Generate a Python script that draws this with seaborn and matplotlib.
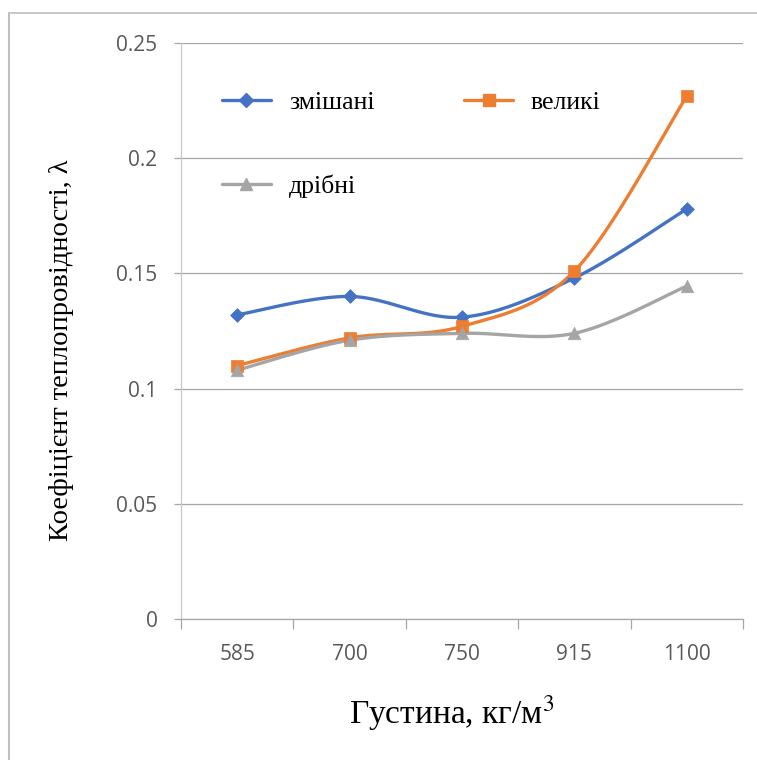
import numpy as np
import pandas as pd
import matplotlib
matplotlib.use("Agg")
import matplotlib.pyplot as plt
from matplotlib.lines import Line2D
from matplotlib.font_manager import FontProperties
import seaborn as sns

# Density categories (kg/m^3) and thermal conductivity per fraction type
density = ["585", "700", "750", "915", "1100"]
mixed = [0.132, 0.140, 0.131, 0.148, 0.178]   # змішані
large = [0.110, 0.122, 0.127, 0.151, 0.227]   # великі
fine = [0.108, 0.121, 0.124, 0.124, 0.1445]   # дрібні

series_names = ["змішані", "великі", "дрібні"]
series_values = [mixed, large, fine]
colors = ["#4472C4", "#ED7D31", "#A5A5A5"]
markers = ["D", "s", "^"]
marker_sizes = [7, 8, 9]


def smooth_curve(xs, ys, n=40):
    """Piecewise cubic Bezier through the points (Catmull-Rom style tangents)."""
    xs = np.asarray(xs, float)
    ys = np.asarray(ys, float)
    pts = np.column_stack([xs, ys])
    ext = np.vstack([pts[0], pts, pts[-1]])
    out = []
    t = np.linspace(0, 1, n)[:, None]
    for i in range(len(pts) - 1):
        p0, p1, p2, p3 = ext[i], ext[i + 1], ext[i + 2], ext[i + 3]
        b1 = p1 + (p2 - p0) / 6.0
        b2 = p2 - (p3 - p1) / 6.0
        seg = ((1 - t) ** 3) * p1 + 3 * ((1 - t) ** 2) * t * b1 + 3 * (1 - t) * t ** 2 * b2 + t ** 3 * p2
        out.append(seg if i == 0 else seg[1:])
    out = np.vstack(out)
    return out[:, 0], out[:, 1]


sns.set_theme(style="white")
plt.rcParams["font.family"] = ["Liberation Serif", "DejaVu Serif"]
plt.rcParams["mathtext.fontset"] = "stix"

fig = plt.figure(figsize=(7.57, 7.60), dpi=100)
ax = fig.add_axes([181 / 757, 1 - 619 / 760, (743 - 181) / 757, (619 - 43) / 760])

xpos = np.arange(len(density))
for name, vals, c, m, ms in zip(series_names, series_values, colors, markers, marker_sizes):
    cx, cy = smooth_curve(xpos, vals)
    curve = pd.DataFrame({"x": cx, "y": cy})
    sns.lineplot(data=curve, x="x", y="y", sort=False, estimator=None, ax=ax,
                 color=c, linewidth=2.4, zorder=3)
    pts = pd.DataFrame({"x": xpos, "y": vals})
    sns.scatterplot(data=pts, x="x", y="y", ax=ax, color=c, marker=m, s=ms ** 2,
                    edgecolor=c, linewidth=0.5, zorder=4)

ax.set_xlim(-0.5, len(density) - 0.5)
ax.set_ylim(0, 0.25)
ax.set_yticks([0, 0.05, 0.1, 0.15, 0.2, 0.25])
ax.set_yticklabels(["0", "0.05", "0.1", "0.15", "0.2", "0.25"])
ax.set_xticks(xpos)
ax.set_xticklabels(density)
ax.set_xticks(np.arange(-0.5, len(density)), minor=True)

for lab in ax.get_xticklabels() + ax.get_yticklabels():
    lab.set_fontfamily(["Open Sans", "DejaVu Sans"])
    lab.set_fontsize(15)
    lab.set_color("#595959")

ax.tick_params(axis="x", which="major", length=0, pad=18)
ax.tick_params(axis="x", which="minor", length=7, width=0.9, color="#A6A6A6", bottom=True)
ax.tick_params(axis="y", which="major", length=5, width=0.9, color="#A6A6A6", left=True, pad=12)

ax.grid(axis="y", color="#A6A6A6", linewidth=0.9)
ax.grid(axis="x", visible=False)
ax.set_axisbelow(True)
for side in ["top", "right"]:
    ax.spines[side].set_visible(False)
ax.spines["left"].set_color("#C8C8C8")
ax.spines["left"].set_linewidth(0.9)
ax.spines["bottom"].set_color("#A6A6A6")
ax.spines["bottom"].set_linewidth(0.9)

ax.set_xlabel("Густина, кг/м$^3$", fontsize=24, color="black")
ax.set_ylabel("Коефіцієнт теплопровідності, λ", fontsize=20.5, color="black")
# label centres placed in axes-fraction coordinates
ax.xaxis.set_label_coords((452 - 181) / 562, -(713 - 619) / 576)
ax.yaxis.set_label_coords(-(181 - 62) / 562, (619 - 350) / 576)
ax.xaxis.label.set_va("center")
ax.yaxis.label.set_va("center")

# Column-wise legend fill: first column holds змішані / дрібні, second holds великі
order = [0, 2, 1]
handles = [Line2D([], [], color=colors[i], marker=markers[i], markersize=marker_sizes[i],
                  linewidth=2.4, markeredgecolor=colors[i]) for i in order]
labels = [series_names[i] for i in order]
legend_font = FontProperties(family=["Liberation Serif", "DejaVu Serif"], size=18.5)
leg = ax.legend(handles, labels, ncol=2, loc="upper left",
                bbox_to_anchor=(0.073, 0.916), frameon=False, prop=legend_font,
                handlelength=1.9, handletextpad=0.7, columnspacing=3.5,
                labelspacing=2.35, borderpad=0, borderaxespad=0)
for txt in leg.get_texts():
    txt.set_fontfamily(["Liberation Serif", "DejaVu Serif"])
    txt.set_color("black")

# Outer frame of the chart area
fig.add_artist(Line2D([9 / 757, 9 / 757], [0, 1 - 13 / 760], transform=fig.transFigure,
                      color="#BFBFBF", linewidth=1.5))
fig.add_artist(Line2D([9 / 757, 1], [1 - 13 / 760, 1 - 13 / 760], transform=fig.transFigure,
                      color="#BFBFBF", linewidth=1.2))

fig.savefig("out.png", dpi=100)
